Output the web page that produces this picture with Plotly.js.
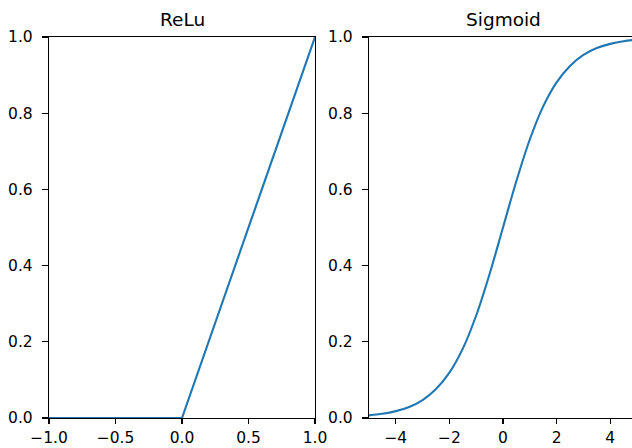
<!DOCTYPE html>
<html>
<head>
<meta charset="utf-8">
<script src="https://cdn.plot.ly/plotly-3.0.1.min.js"></script>
<style>
html,body{margin:0;padding:0;overflow:hidden;background:#fff;}
#chart{width:638px;height:448px;}
</style>
</head>
<body>
<div id="chart"></div>
<script>
// ReLu panel data
const reluX = [-1.0, 0.0, 1.0];
const reluY = [0.0, 0.0, 1.0];

// Sigmoid panel data
const sigX = [-5.0, -4.5, -4.0, -3.5, -3.0, -2.5, -2.0, -1.5, -1.0, -0.5, 0.0,
              0.5, 1.0, 1.5, 2.0, 2.5, 3.0, 3.5, 4.0, 4.5, 5.0];
const sigY = [0.007, 0.011, 0.018, 0.029, 0.047, 0.076, 0.119, 0.182, 0.269, 0.378, 0.500,
              0.622, 0.731, 0.818, 0.881, 0.924, 0.953, 0.971, 0.982, 0.989, 0.993];

const titles = ["ReLu", "Sigmoid"];
const reluXTicks = [-1.0, -0.5, 0.0, 0.5, 1.0];
const sigXTicks = [-4, -2, 0, 2, 4];
const yTicks = [0.0, 0.2, 0.4, 0.6, 0.8, 1.0];

const lineColor = '#1f77b4';
const font = {family: 'DejaVu Sans, sans-serif', size: 15.5, color: '#000'};
const titleFont = {family: 'DejaVu Sans, sans-serif', size: 18.5, color: '#000'};

function axisBase() {
  return {
    showgrid: false, zeroline: false,
    showline: true, linecolor: '#000', linewidth: 1.2, mirror: true,
    ticks: 'outside', ticklen: 6, tickwidth: 1.2, tickcolor: '#000',
    tickfont: font, fixedrange: true
  };
}

const traces = [
  {x: reluX, y: reluY, xaxis: 'x', yaxis: 'y', mode: 'lines',
   line: {color: lineColor, width: 2.1}, hoverinfo: 'skip', showlegend: false},
  {x: sigX, y: sigY, xaxis: 'x2', yaxis: 'y2', mode: 'lines',
   line: {color: lineColor, width: 2.1, shape: 'spline'}, hoverinfo: 'skip', showlegend: false}
];

const W = 638, L = 49, R = 1;
const pw = W - L - R;
const d1 = [0, (315 - L) / pw];
const d2 = [(369 - L) / pw, 1];

const layout = {
  width: W, height: 448,
  margin: {l: L, r: R, t: 37, b: 30, pad: 0},
  paper_bgcolor: '#fff', plot_bgcolor: '#fff',
  font: font,
  showlegend: false,
  xaxis: Object.assign(axisBase(), {domain: d1, range: [-1, 1], tickvals: reluXTicks, tickformat: '.1f', anchor: 'y', ticklen: 5}),
  yaxis: Object.assign(axisBase(), {domain: [0, 1], range: [0, 1], tickvals: yTicks, tickformat: '.1f', anchor: 'x', ticklabelstandoff: 6}),
  xaxis2: Object.assign(axisBase(), {domain: d2, range: [-5, 5], tickvals: sigXTicks, anchor: 'y2', ticklen: 5}),
  yaxis2: Object.assign(axisBase(), {domain: [0, 1], range: [0, 1], tickvals: yTicks, tickformat: '.1f', anchor: 'x2', ticklabelstandoff: 6}),
  annotations: [
    {text: titles[0], xref: 'paper', yref: 'paper', x: (d1[0] + d1[1]) / 2, y: 1,
     xanchor: 'center', yanchor: 'bottom', yshift: 5, showarrow: false, font: titleFont},
    {text: titles[1], xref: 'paper', yref: 'paper', x: (d2[0] + d2[1]) / 2, y: 1,
     xanchor: 'center', yanchor: 'bottom', yshift: 5, showarrow: false, font: titleFont}
  ]
};

Plotly.newPlot('chart', traces, layout, {displayModeBar: false, staticPlot: true});
</script>
</body>
</html>
